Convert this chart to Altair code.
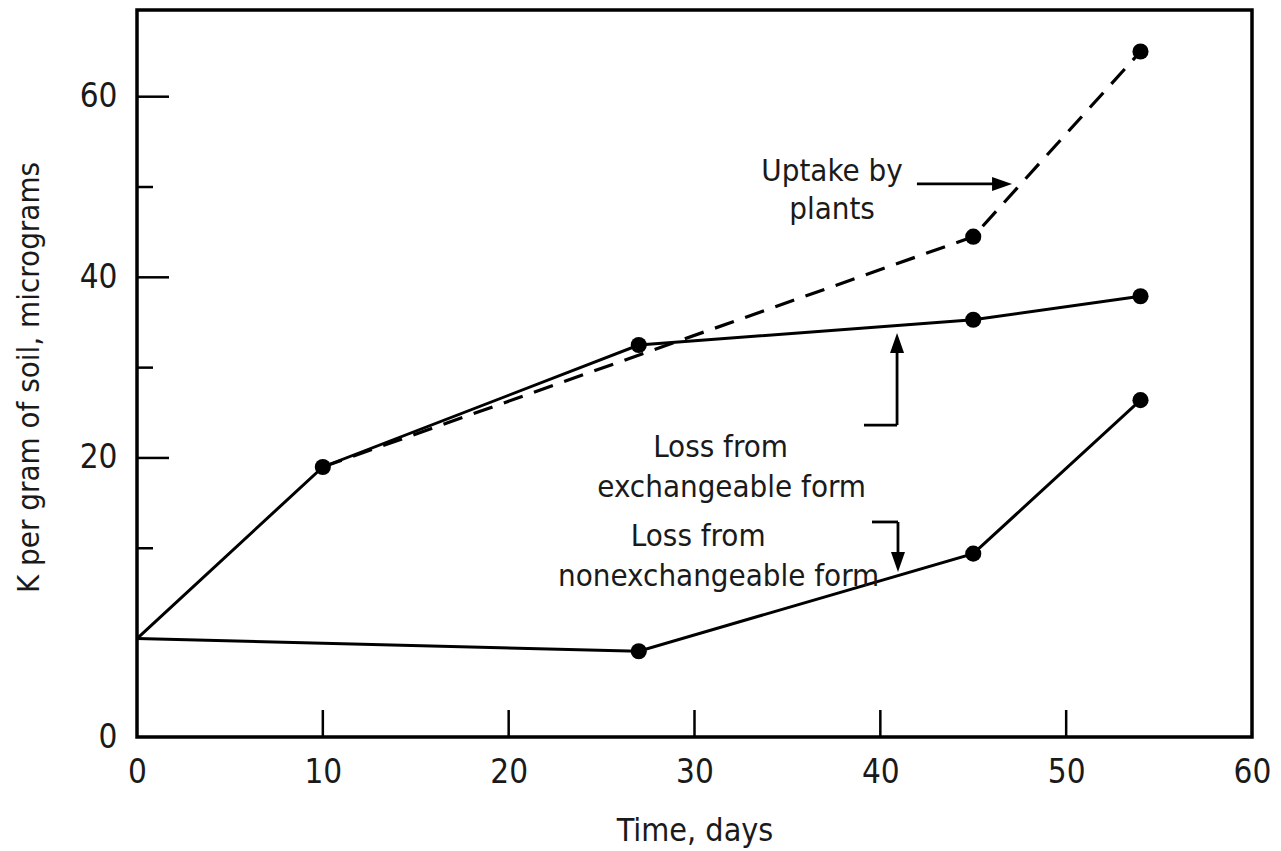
import altair as alt
import pandas as pd

# ---- data ----
exch_days = [0, 10, 27, 45, 54]
exchangeable = [0, 19.0, 32.5, 35.3, 37.9]

nonexch_days = [0, 27, 45, 54]
nonexchangeable = [0, -1.4, 9.4, 26.4]

uptake_days = [10, 45, 54]
uptake = [19.0, 44.5, 65.0]

x_tick_values = [0, 10, 20, 30, 40, 50, 60]
x_inner_ticks = [10, 20, 30, 40, 50]
y_major_ticks = [20, 40, 60]
y_minor_ticks = [10, 30, 50]
y_axis_bottom = -10.9
y_axis_top = 69.6

ann_text = ["Uptake by", "plants", "Loss from", "exchangeable form", "Loss from", "nonexchangeable form"]
ann_day = [37.4, 37.4, 31.4, 32.0, 30.2, 31.3]
ann_val = [51.7, 47.45, 21.1, 16.67, 11.25, 6.82]

seg_day = [41.97, 39.12, 40.90, 39.55, 40.95]
seg_day2 = [46.17, 40.90, 40.90, 40.95, 40.95]
seg_val = [50.34, 23.64, 23.64, 12.91, 12.91]
seg_val2 = [50.34, 23.64, 31.96, 12.91, 9.26]

head_day = [46.55, 40.90, 40.95]
head_val = [50.34, 32.73, 8.48]
head_dir = ["right", "up", "down"]

FONT = "DejaVu Sans Condensed"
INK = "#1a1a1a"

xs = alt.Scale(domain=[0, 60], nice=False, zero=False)
ys = alt.Scale(domain=[y_axis_bottom, y_axis_top], nice=False, zero=False)

exch_df = pd.DataFrame({"day": exch_days, "val": exchangeable})
non_df = pd.DataFrame({"day": nonexch_days, "val": nonexchangeable})
up_df = pd.DataFrame({"day": uptake_days, "val": uptake})

x_axis = alt.Axis(
    values=x_tick_values, ticks=False, tickSize=0, domain=False, grid=False,
    labelFont=FONT, labelFontSize=33, labelColor=INK, labelPadding=45,
    labelBaseline="alphabetic", labelFlush=False, labelOverlap=False,
    title="Time, days", titleFont=FONT, titleFontSize=32, titleFontWeight="normal",
    titleColor=INK, titleY=103, titleBaseline="alphabetic",
)
y_axis = alt.Axis(
    values=[y_axis_bottom] + y_major_ticks, ticks=False, tickSize=0, domain=False, grid=False,
    labelFont=FONT, labelFontSize=33, labelColor=INK, labelPadding=20,
    labelFlush=False, labelOverlap=False,
    labelExpr="datum.value < 0 ? '0' : datum.label",
    title="K per gram of soil, micrograms", titleFont=FONT, titleFontSize=31,
    titleFontWeight="normal", titleColor=INK, titleX=-108, titleY=367,
    titleBaseline="middle", titleAlign="center", titleAngle=-90,
)

X = alt.X("day:Q", scale=xs, axis=x_axis)
Y = alt.Y("val:Q", scale=ys, axis=y_axis)

exch_line = alt.Chart(exch_df).mark_line(color="black", strokeWidth=3).encode(x=X, y=Y)
non_line = alt.Chart(non_df).mark_line(color="black", strokeWidth=3).encode(x=X, y=Y)
up_line = alt.Chart(up_df).mark_line(color="black", strokeWidth=3.2, strokeDash=[20, 12]).encode(x=X, y=Y)

pts_df = pd.concat([
    exch_df[exch_df.day > 0],
    non_df[non_df.day > 0],
    up_df[up_df.day > 10],
])
points = alt.Chart(pts_df).mark_circle(size=260, color="black", opacity=1).encode(x=X, y=Y)

# inward axis ticks
xt = alt.Chart(pd.DataFrame({"day": x_inner_ticks})).mark_rule(color="black", strokeWidth=2.5).encode(
    x=X, y=alt.value(727), y2=alt.value(700)
)
ymaj = alt.Chart(pd.DataFrame({"val": y_major_ticks})).mark_rule(color="black", strokeWidth=2.5).encode(
    y=Y, x=alt.value(0), x2=alt.value(32)
)
ymin = alt.Chart(pd.DataFrame({"val": y_minor_ticks})).mark_rule(color="black", strokeWidth=2.5).encode(
    y=Y, x=alt.value(0), x2=alt.value(16)
)

ann_df = pd.DataFrame({"day": ann_day, "val": ann_val, "text": ann_text})
ann = alt.Chart(ann_df).mark_text(font=FONT, fontSize=31, color=INK, align="center", baseline="middle").encode(
    x=X, y=Y, text="text:N",
)

seg_df = pd.DataFrame({"day": seg_day, "day2": seg_day2, "val": seg_val, "val2": seg_val2})
segs = alt.Chart(seg_df).mark_rule(color="black", strokeWidth=2.8).encode(
    x=X, x2="day2:Q", y=Y, y2="val2:Q",
)

head_df = pd.DataFrame({"day": head_day, "val": head_val, "dir": head_dir})
heads = alt.Chart(head_df).mark_point(filled=True, color="black", opacity=1, size=400, strokeWidth=0).encode(
    x=X, y=Y,
    shape=alt.Shape(
        "dir:N",
        scale=alt.Scale(
            domain=["right", "up", "down"],
            range=["M-1,-0.7L-1,0.7L1,0Z", "M-0.7,1L0.7,1L0,-1Z", "M-0.7,-1L0.7,-1L0,1Z"],
        ),
        legend=None,
    ),
)

chart = alt.layer(
    exch_line, non_line, up_line, xt, ymaj, ymin, points, segs, heads, ann
).properties(
    width=1115, height=727,
    autosize=alt.AutoSizeParams(type="none"),
    padding={"left": 129, "top": 2, "right": 21, "bottom": 112},
    background="white",
).configure_view(stroke="black", strokeWidth=3.5)

chart.save("out.html", embed_options={"renderer": "svg", "actions": False})
